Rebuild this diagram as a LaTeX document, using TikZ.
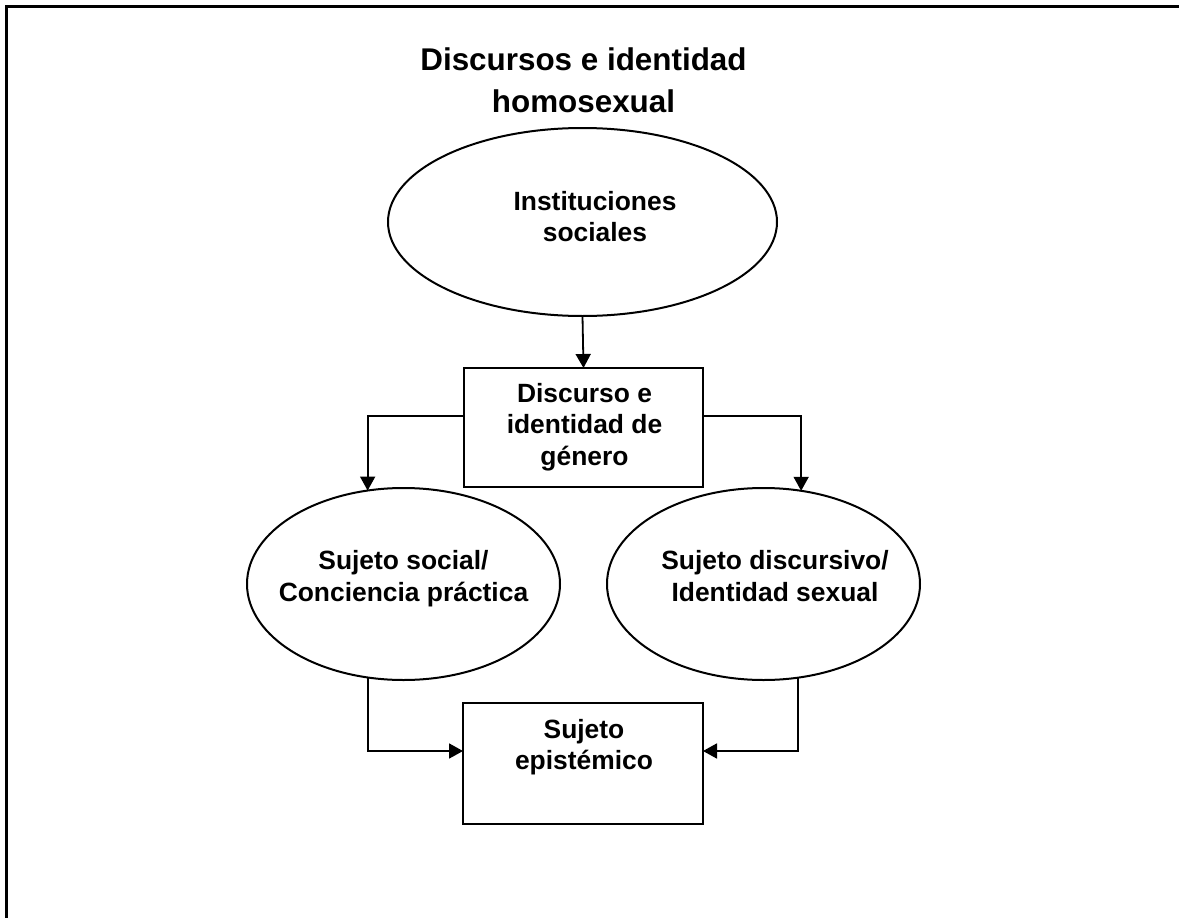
\documentclass[tikz,border=0pt]{standalone}
\usepackage{fontspec}
\setmainfont{Liberation Sans}
\usetikzlibrary{shapes.geometric,arrows.meta}

\tikzset{
  shapeline/.style={draw, line width=2pt, inner sep=0pt, outer sep=0pt},
  ovalbox/.style={shapeline, ellipse},
  rectbox/.style={shapeline, rectangle},
  label text/.style={inner sep=0pt, align=center,
    font=\fontsize{26.4}{31.5}\selectfont\bfseries},
  title text/.style={inner sep=0pt, align=center,
    font=\fontsize{31.4}{42}\selectfont\bfseries},
  link/.style={line width=1.8pt, -{Triangle[length=14pt,width=15pt]}},
  plainlink/.style={line width=1.8pt},
}

\begin{document}
\begin{tikzpicture}[x=1pt,y=-1pt]
  \useasboundingbox (0,0) rectangle (1179,918);

  % outer frame (only the top and left sides fall inside the page)
  \draw[line width=2.6pt] (6.5,925) -- (6.5,6.5) -- (1190,6.5);

  % title
  \node[title text] (title) at (583.5,80) {Discursos e identidad\\homosexual};

  % shapes
  \node[ovalbox, minimum width=389pt, minimum height=188pt] (inst) at (582.5,222) {};
  \node[label text] (instT) at (595,216.5) {Instituciones\\sociales};

  \node[rectbox, minimum width=239pt, minimum height=119pt] (disc) at (583.5,427.5) {};
  \node[label text] (discT) at (584.5,427) {Discurso e\\identidad de\\género};

  \node[ovalbox, minimum width=313pt, minimum height=192pt] (soc) at (403.5,584) {};
  \node[label text] (socT) at (403.5,578.5) {Sujeto social/\\Conciencia práctica};

  \node[ovalbox, minimum width=313pt, minimum height=192pt] (dis) at (763.5,584) {};
  \node[label text] (disT) at (775,576) {Sujeto discursivo/\\Identidad sexual};

  \node[rectbox, minimum width=240pt, minimum height=121pt] (epi) at (583,763.5) {};
  \node[label text] (epiT) at (584,747) {Sujeto\\epistémico};

  % connectors
  \draw[link] (inst.south) -- (disc.north);
  \draw[link] ([yshift=11.5pt]disc.west) -| (soc.111.4);
  \draw[link] ([yshift=11.5pt]disc.east) -| (dis.68.6);
  \draw[link] (soc.249.2) |- ([yshift=12.5pt]epi.west);
  \draw[link] (dis.290.8) |- ([yshift=12.5pt]epi.east);
\end{tikzpicture}
\end{document}
